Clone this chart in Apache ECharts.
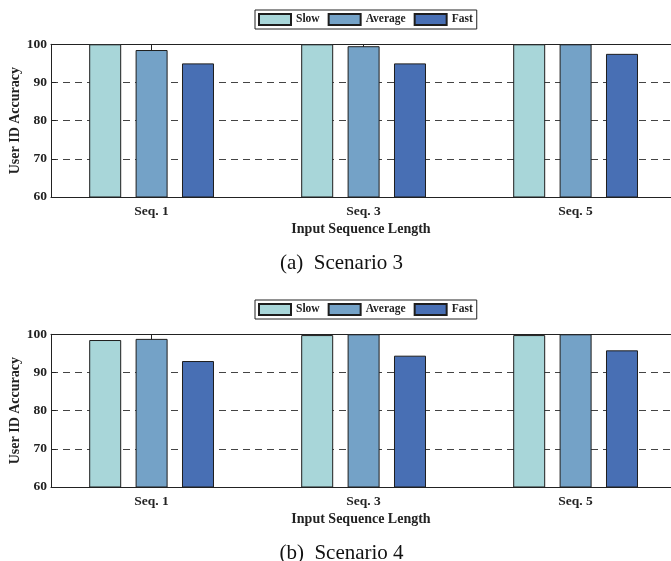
<!DOCTYPE html>
<html>
<head>
<meta charset="utf-8">
<script src="https://cdn.jsdelivr.net/npm/echarts@6/dist/echarts.min.js"></script>
<style>
  html, body { margin: 0; padding: 0; background: #fff; }
  #chart { width: 671px; height: 561px; }
</style>
</head>
<body>
<div id="chart"></div>
<script>
// Input sequence lengths (x categories) and tick labels
const categories = ['Seq. 1', 'Seq. 3', 'Seq. 5'];
const categoryPositions = [1, 2, 3];
const yTicks = [60, 70, 80, 90, 100];
const seriesNames = ['Slow', 'Average', 'Fast'];

// Scenario 3: user ID accuracy (%)
const scenario3Slow = [100, 100, 100];
const scenario3Average = [98.5, 99.5, 100];
const scenario3Fast = [95.0, 95.0, 97.5];

// Scenario 4: user ID accuracy (%)
const scenario4Slow = [98.5, 99.8, 99.8];
const scenario4Average = [98.8, 100, 100];
const scenario4Fast = [93.0, 94.4, 95.8];

const colors = { Slow: '#a8d6d9', Average: '#74a2c7', Fast: '#486fb4' };
const serif = '"Liberation Serif", "DejaVu Serif", serif';
const ink = '#222';

const panels = [
  { top: 44.3, legendTop: 10, caption: '(a)  Scenario 3', captionY: 263,
    data: { Slow: scenario3Slow, Average: scenario3Average, Fast: scenario3Fast } },
  { top: 334.3, legendTop: 300, caption: '(b)  Scenario 4', captionY: 553,
    data: { Slow: scenario4Slow, Average: scenario4Average, Fast: scenario4Fast } }
];

const plotHeight = 152.7;
const xMin = 0.5255, xMax = 3.45;

const grid = [], xAxis = [], yAxis = [], series = [], legend = [], graphic = [];

panels.forEach((p, i) => {
  grid.push({ left: 51, top: p.top, width: 620, height: plotHeight,
    containLabel: false, outerBoundsMode: 'none' });

  // bottom axis with category labels
  xAxis.push({
    type: 'value', gridIndex: i, position: 'bottom', min: xMin, max: xMax,
    name: 'Input Sequence Length', nameLocation: 'middle', nameGap: 25,
    nameMoveOverlap: false,
    nameTextStyle: { fontFamily: serif, fontWeight: 'bold', fontSize: 14, color: ink },
    axisLine: { show: true, lineStyle: { color: ink, width: 1 } },
    axisTick: { show: true, inside: true, length: 6, customValues: categoryPositions, lineStyle: { color: ink } },
    axisLabel: { customValues: categoryPositions, margin: 8,
      formatter: v => categories[categoryPositions.indexOf(v)] || '',
      fontFamily: serif, fontWeight: 'bold', fontSize: 13.5, color: ink },
    splitLine: { show: false }
  });
  // top frame line with mirrored ticks
  xAxis.push({
    type: 'value', gridIndex: i, position: 'top', min: xMin, max: xMax,
    axisLine: { show: true, lineStyle: { color: ink, width: 1 } },
    axisTick: { show: true, inside: true, length: 6, customValues: categoryPositions, lineStyle: { color: ink } },
    axisLabel: { show: false },
    splitLine: { show: false }
  });

  yAxis.push({
    type: 'value', gridIndex: i, min: yTicks[0], max: yTicks[yTicks.length - 1], interval: 10,
    name: 'User ID Accuracy', nameLocation: 'middle', nameGap: 29, nameRotate: 90,
    nameMoveOverlap: false,
    nameTextStyle: { fontFamily: serif, fontWeight: 'bold', fontSize: 14, color: ink },
    axisLine: { show: true, lineStyle: { color: ink, width: 1 } },
    axisTick: { show: true, inside: true, length: 5, lineStyle: { color: ink } },
    axisLabel: { margin: 4, fontFamily: serif, fontWeight: 'bold', fontSize: 13.5, color: ink },
    splitLine: { show: true, lineStyle: { color: '#444', type: [7, 5], width: 1 } }
  });

  seriesNames.forEach(name => {
    series.push({
      name, type: 'bar', xAxisIndex: i * 2, yAxisIndex: i,
      barWidth: 32, barGap: '45%',
      itemStyle: { color: colors[name], borderColor: '#1e1e1e', borderWidth: 1 },
      data: p.data[name].map((v, k) => [categoryPositions[k], v]),
      animation: false
    });
  });

  legend.push({
    data: seriesNames, left: 255, top: p.legendTop, orient: 'horizontal',
    icon: 'rect', itemWidth: 32, itemHeight: 11, itemGap: 8,
    padding: [3, 4, 3, 3], borderColor: ink, borderWidth: 1, backgroundColor: '#fff',
    selectedMode: false,
    textStyle: { fontFamily: serif, fontWeight: 'bold', fontSize: 11.5, color: ink }
  });

  graphic.push({
    type: 'text', x: 341.5, y: p.captionY,
    style: { text: p.caption, font: '21px ' + serif, fill: '#111',
      textAlign: 'center', textVerticalAlign: 'middle' }
  });
});

const chart = echarts.init(document.getElementById('chart'), null, { renderer: 'canvas' });
chart.setOption({
  backgroundColor: '#fff',
  animation: false,
  grid, xAxis, yAxis, series, legend, graphic
});
</script>
</body>
</html>
